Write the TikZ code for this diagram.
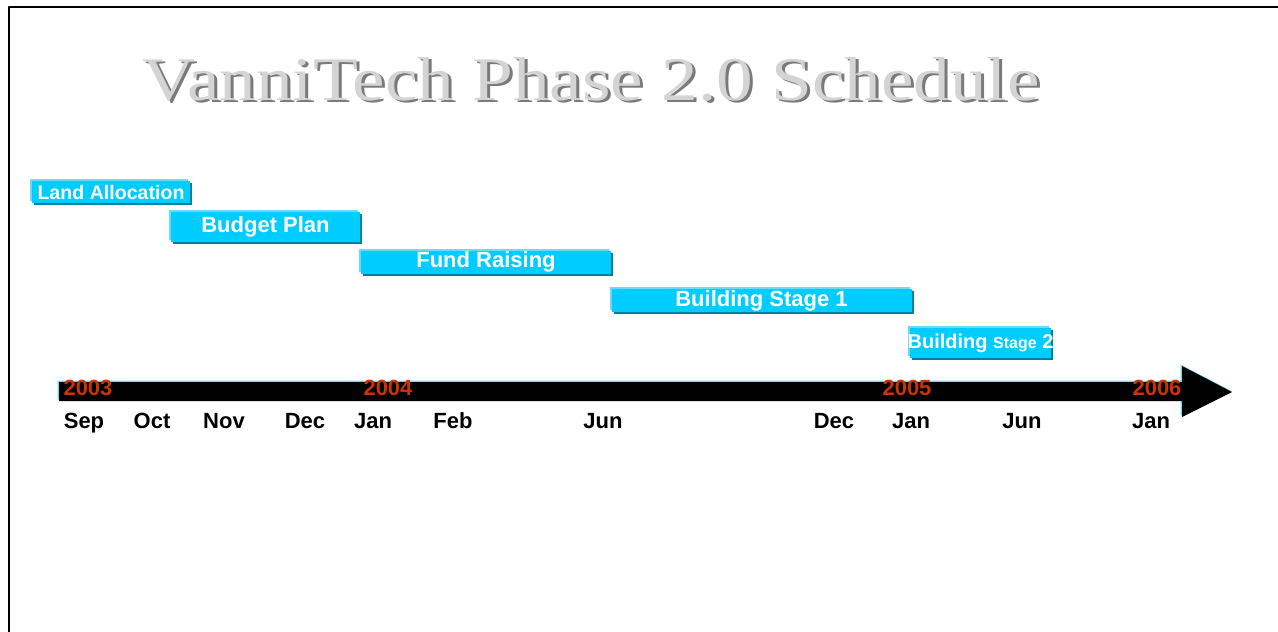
\documentclass[tikz,border=0pt]{standalone}
\usepackage{fontspec}
\setmainfont{Liberation Sans}
\newfontfamily\titlefont{Liberation Serif}
\usetikzlibrary{shadows}

\definecolor{barcyan}{HTML}{00CCFF}
\definecolor{barlight}{HTML}{66DDF8}
\definecolor{bardark}{HTML}{00809F}
\definecolor{yearred}{HTML}{CC3300}
\definecolor{titlegray}{HTML}{D4D4D4}
\definecolor{titleshade}{HTML}{7A7A7A}

\begin{document}
\begin{tikzpicture}[
        x = 0.5pt, y = -0.5pt,
        line join=round,
        barstyle/.style = {fill=barcyan, text=white, inner sep=0pt,
            font=\bfseries\fontsize{11}{12}\selectfont,
            general shadow={shadow xshift=-1pt, shadow yshift=1pt, fill=barlight},
            general shadow={shadow xshift=1.2pt, shadow yshift=-1.2pt, fill=bardark}},
        monthstyle/.style = {anchor=base, inner sep=0pt, font=\bfseries\fontsize{11}{12}\selectfont},
        yearstyle/.style = {anchor=base, inner sep=0pt, text=yearred, font=\bfseries\fontsize{11}{12}\selectfont},
        titlestyle/.style = {anchor=base, inner sep=0pt, font=\titlefont\fontsize{31}{34}\selectfont}
    ]

    \useasboundingbox (0, 0) rectangle (1278, 631);

    % frame
    \draw[line width=1pt] (9, 640) -- (9, 7) -- (1290, 7);

    % title
    \node[titlestyle, text=titleshade] (titleshadow) at (594, 103) {\scalebox{1.18}[1]{VanniTech Phase 2.0 Schedule}};
    \node[titlestyle, text=titlegray] (title) at (591, 100) {\scalebox{1.18}[1]{VanniTech Phase 2.0 Schedule}};

    % tasks
    \node[barstyle, minimum width=79pt, minimum height=11pt, font=\bfseries\fontsize{9.8}{11}\selectfont] (land) at (111, 192) {Land Allocation};
    \node[barstyle, minimum width=94.5pt, minimum height=15pt] (budget) at (265.5, 226.5) {Budget Plan};
    \node[barstyle, minimum width=125pt, minimum height=11.5pt] (fund) at (486, 262) {Fund Raising};
    \node[barstyle, minimum width=150pt, minimum height=11.5pt] (stage1) at (761.5, 300.5) {Building Stage 1};
    \node[barstyle, minimum width=70.5pt, minimum height=15pt] (stage2) at (980.5, 343) {};
    \node[text=white, inner sep=0pt, font=\bfseries\fontsize{10}{11}\selectfont] (stage2text) at (stage2) {Building {\fontsize{8}{9}\selectfont Stage} 2};

    % time line
    \foreach \d/\col in {-1.5/barlight, 0/black} {
        \fill[\col] (59+\d, 382+\d) -- (1182+\d, 382+\d) -- (1182+\d, 366+\d) -- (1232+\d, 392+\d)
            -- (1182+\d, 417+\d) -- (1182+\d, 401+\d) -- (59+\d, 401+\d) -- cycle;
    }

    \foreach \name/\x in {2003/88, 2004/388, 2005/907, 2006/1157} {
        \node[yearstyle] (y\name) at (\x, 395) {\name};
    }

    \foreach \name/\x/\txt in {sep03/84/Sep, oct03/152/Oct, nov03/224/Nov, dec03/305/Dec,
                               jan04/373/Jan, feb04/453/Feb, jun04/603/Jun, dec04/834/Dec,
                               jan05/911/Jan, jun05/1022/Jun, jan06/1151/Jan} {
        \node[monthstyle] (\name) at (\x, 428) {\txt};
    }

\end{tikzpicture}
\end{document}
